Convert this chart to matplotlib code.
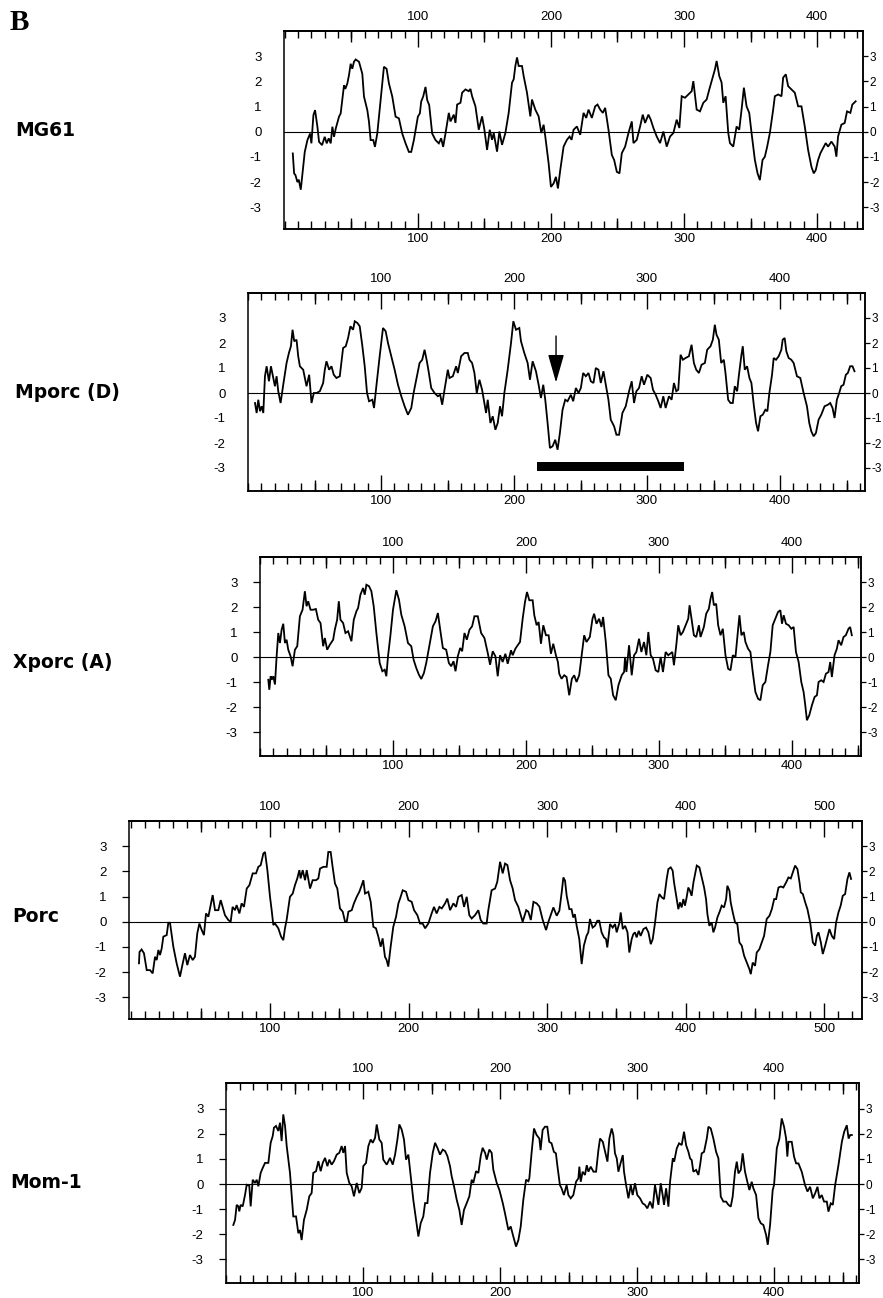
import matplotlib
matplotlib.use('Agg')
import matplotlib.pyplot as plt
from matplotlib.ticker import FixedLocator, MultipleLocator, NullFormatter, FixedFormatter

plt.rcParams['axes.unicode_minus'] = False
plt.rcParams['font.family'] = ['Liberation Sans', 'DejaVu Sans']

# ---------------- data (residue position, hydropathy value) ----------------
mg61 = [(6,-0.86),(7,-1.65),(8,-1.72),(9.5,-2.0),(10.5,-1.9),(12,-2.3),(13,-1.8),(15,-0.8),(17,-0.33),(19,-0.07),(20,-0.46),(21.5,0.66),(22.75,0.86),(24.5,0.2),(25.75,-0.4),(28,-0.53),(30,-0.2),(31.5,-0.46),(33,-0.26),(34.5,-0.46),(35.75,0.2),(37,-0.2),(38.3,0.13),(40.75,0.6),(42,0.73),(44.5,1.85),(45.5,1.7),(47,1.92),(48.25,2.25),(49.5,2.7),(50.7,2.5),(52,2.78),(53.25,2.87),(55.75,2.78),(58.25,2.3),(59.5,1.4),(62,0.86),(63.25,0.4),(64.5,-0.33),(66.5,-0.33),(67.75,-0.6),(69.5,-0.07),(72,1.26),(74.5,2.58),(76.5,2.5),(78.25,1.92),(80.75,1.4),(83.25,0.6),(85.75,0.53),(88.25,-0.07),(90.75,-0.46),(93.25,-0.8),(95,-0.8),(97,-0.33),(100,0.6),(101.5,0.73),(102.5,1.2),(104,1.4),(105.75,1.78),(107,1.26),(108.5,1.06),(110.75,-0.07),(113.25,-0.33),(115.75,-0.46),(117.5,-0.26),(119,-0.6),(120.75,-0.07),(123.25,0.75),(124.5,0.41),(127,0.68),(128.25,0.35),(129.5,1.08),(132,1.15),(133.25,1.55),(135.75,1.68),(138.25,1.61),(139.5,1.7),(140.75,1.41),(143.25,1.01),(145.75,0.08),(148.25,0.61),(150,0.08),(152,-0.72),(154,0.08),(155.75,-0.32),(157,-0.05),(159.5,-0.79),(161.25,0.01),(163.25,-0.52),(165.75,-0.05),(168.25,0.75),(170.75,1.95),(172,2.08),(173.25,2.61),(174.5,2.95),(175.75,2.61),(178.25,2.61),(179.5,2.21),(182,1.55),(184.5,0.61),(185.75,1.28),(188.25,0.88),(190.75,0.61),(192.75,-0.05),(194.5,0.28),(195.75,-0.19),(198.25,-1.25),(200,-2.19),(202,-2.05),(203.75,-1.79),(205.25,-2.25),(207,-1.52),(209.5,-0.59),(212,-0.32),(214,-0.19),(215.5,-0.32),(217,0.08),(219.5,0.21),(222,-0.12),(224.5,0.75),(226.5,0.55),(228.25,0.88),(230.75,0.55),(233.25,1.01),(235,1.08),(237,0.88),(239,0.75),(240.75,0.95),(243.25,0.08),(245.75,-0.92),(247.5,-1.12),(249.5,-1.59),(251.5,-1.65),(253.25,-0.85),(255.75,-0.59),(258.25,-0.05),(260.75,0.41),(262,-0.45),(264.5,-0.32),(267,0.21),(269,0.68),(270.75,0.35),(273.25,0.68),(275,0.48),(277,0.15),(279.5,-0.19),(282,-0.45),(284.5,0.01),(287,-0.59),(289.5,-0.19),(292,-0.05),(294.5,0.48),(296.5,0.15),(298.25,1.41),(300.75,1.35),(303.25,1.48),(305.75,1.61),(307,2.01),(309.5,0.88),(312,0.81),(314.5,1.15),(317,1.28),(319,1.68),(321.5,2.15),(323.25,2.48),(324.5,2.81),(326.5,2.21),(328.25,1.95),(329.5,1.15),(331.25,1.41),(333.25,-0.05),(334.5,-0.45),(337,-0.59),(339.5,0.21),(341.5,0.08),(343.25,0.88),(345,1.75),(347,1.01),(349,0.75),(350.75,-0.05),(353.25,-1.12),(355.25,-1.65),(357,-1.92),(359,-1.12),(360.75,-0.99),(362.5,-0.59),(364.5,-0.05),(367,0.88),(368.25,1.41),(370.75,1.48),(373.25,1.41),(374.5,2.15),(376.5,2.28),(378.25,1.81),(380.75,1.68),(383.25,1.55),(385.75,1.01),(388.25,1.01),(390.75,0.21),(393.25,-0.72),(395.75,-1.39),(397.5,-1.65),(399,-1.52),(400.75,-1.12),(402.5,-0.85),(404.5,-0.65),(406.5,-0.45),(408.25,-0.59),(410.75,-0.39),(413.25,-0.59),(414.5,-0.99),(415.75,-0.19),(418.25,0.28),(420.75,0.35),(422.5,0.81),(425,0.75),(426.5,1.08),(429,1.21)]

mporc = [(5.25,-0.4),(6.5,-0.8),(7.75,-0.27),(9,-0.73),(10.25,-0.53),(11.5,-0.8),(12.75,0.67),(14,1.07),(15.75,0.47),(17.25,1.07),(18.5,0.73),(20.25,0.27),(21.5,0.67),(22.75,0.07),(24.5,-0.4),(26.5,0.33),(29,1.2),(30.75,1.6),(32.25,1.87),(33.5,2.53),(34.75,2.07),(36.5,2.13),(37.75,1.47),(39,1.07),(41.5,0.93),(44,0.27),(46,0.73),(47.75,-0.4),(49.5,0),(51.5,0),(54,0.07),(56.5,0.4),(57.75,0.93),(59,1.27),(61,0.93),(62.75,1.07),(64.5,0.73),(66.5,0.6),(69,0.67),(71.5,1.8),(73.5,1.87),(75.25,2.2),(77,2.67),(79,2.53),(80.25,2.87),(82.25,2.8),(84,2.67),(86,1.87),(87.75,1.07),(89.5,0),(91,-0.33),(93.5,-0.27),(94.75,-0.6),(96.5,0.27),(99,1.47),(101.5,2.6),(103.5,2.47),(105.25,2.0),(107.75,1.47),(110.25,0.93),(112.75,0.33),(115.25,-0.13),(117.75,-0.53),(120.25,-0.87),(122.75,-0.6),(124.5,0),(126.5,0.53),(129,1.2),(131,1.33),(132.75,1.73),(134.5,1.27),(136,0.8),(137.75,0.2),(140.25,0),(142.75,-0.13),(144.5,-0.07),(146,-0.47),(147.75,0.13),(150.25,0.93),(151.5,0.6),(154,0.67),(156.5,1.07),(157.75,0.8),(160.25,1.47),(162.75,1.6),(165.25,1.6),(166.5,1.33),(168.5,1.2),(170.25,0.8),(172,0),(174,0.53),(176,0.13),(177.75,-0.4),(179,-0.8),(180.25,-0.27),(182.25,-1.2),(184,-0.93),(186,-1.47),(187.75,-1.2),(189.5,-0.53),(191,-0.93),(192.75,0),(195.25,0.93),(197.75,2.0),(199.5,2.87),(201.5,2.53),(204,2.6),(205.25,2.07),(207.75,1.6),(210.25,1.2),(212,0.53),(214,1.27),(216.5,0.87),(218.5,0.33),(220.25,-0.2),(222,0.33),(223.5,-0.27),(225.25,-1.2),(227,-2.2),(229,-2.13),(231,-1.87),(232.75,-2.27),(234.5,-1.6),(236.5,-0.67),(238.5,-0.27),(240.25,-0.33),(242.75,-0.07),(244.5,-0.33),(246.5,0.2),(248.5,0),(250.25,0.2),(252,0.8),(254,0.67),(256,0.8),(257.75,0.47),(259.75,0.4),(261.5,1.0),(263.5,0.93),(265.25,0.4),(267.25,0.87),(269,0.33),(271,-0.27),(272.75,-1.07),(275.25,-1.33),(277,-1.67),(279,-1.67),(281.5,-0.8),(284,-0.53),(286.5,0.07),(288.5,0.47),(290.25,-0.4),(292,0.07),(294,0.2),(296,0.67),(297.75,0.33),(300.25,0.73),(302.75,0.6),(304.5,0.13),(306.5,-0.07),(308.5,-0.33),(310.25,-0.6),(312.25,-0.13),(314,-0.6),(316.5,-0.13),(318.5,-0.27),(320.25,0.4),(322,0.07),(323.5,0.13),(325.25,1.53),(327,1.33),(329,1.4),(331.5,1.47),(333.5,1.93),(335.25,1.2),(337,0.93),(339,0.8),(341,1.13),(343.5,1.2),(345.25,1.73),(347.75,1.87),(349.5,2.13),(351,2.73),(352.25,2.33),(354,2.13),(355.75,1.2),(357.75,1.33),(359,0.8),(361,-0.27),(362.75,-0.4),(364.5,-0.4),(366,0.27),(367.75,0.07),(369,0.67),(371,1.53),(372,1.87),(373.5,0.93),(375.25,1.07),(377,0.6),(378.5,0.4),(380.25,-0.47),(382,-1.2),(383.5,-1.53),(385.25,-0.93),(387,-0.87),(389,-0.67),(390.5,-0.73),(392,0),(394,0.73),(395.25,1.4),(397,1.33),(399,1.47),(401,1.73),(402,2.13),(403.5,2.2),(404.75,1.67),(406.5,1.4),(408.5,1.33),(410.25,1.2),(412.75,0.67),(415.25,0.6),(417.75,0),(420.25,-0.53),(422,-1.2),(423.5,-1.53),(425.25,-1.73),(427,-1.6),(429,-1.07),(431,-0.87),(433.5,-0.53),(436,-0.47),(437.75,-0.4),(439.5,-0.6),(441,-1.0),(442.75,-0.27),(444.5,0),(446,0.27),(447.75,0.33),(449.5,0.73),(451,0.8),(452.75,1.07),(454.5,1.07),(456,0.87)]

xporc = [(6.25,-0.91),(7,-1.31),(8,-0.77),(9,-0.9),(10,-0.77),(11.25,-1.1),(12.5,0.03),(13.75,0.96),(15,0.56),(16.25,1.09),(17.5,1.33),(18.75,0.56),(20,0.69),(21.25,0.29),(23,0.03),(24.5,-0.37),(26.25,0.29),(28,0.43),(30,1.63),(32,1.89),(33.75,2.63),(35,2.03),(36.25,2.23),(38,1.89),(40,1.89),(42,1.92),(43.75,1.49),(45.5,1.36),(47.5,0.43),(48.75,0.76),(50.5,0.29),(52.5,0.49),(55,0.69),(56.25,1.09),(58,1.49),(59.25,2.23),(60.5,1.49),(62.5,1.36),(64.25,0.96),(66.25,1.03),(68.75,0.63),(70.5,1.49),(72.5,1.83),(73.75,1.96),(75.5,2.49),(77.5,2.76),(78.75,2.49),(80,2.89),(82,2.83),(83.75,2.63),(85.5,2.03),(87.5,0.96),(90,-0.24),(92,-0.57),(93.75,-0.51),(95,-0.77),(96.25,0.03),(98,0.83),(100,1.89),(102.5,2.67),(104.5,2.29),(106.25,1.69),(108.75,1.23),(111.25,0.56),(113.75,0.43),(115.5,-0.11),(117.5,-0.44),(119.5,-0.71),(121.25,-0.88),(123.25,-0.64),(125,-0.24),(127.5,0.49),(130,1.23),(132,1.43),(133.75,1.76),(135.5,1.09),(137.5,0.36),(140,0.29),(142,-0.24),(143.75,-0.37),(145.5,-0.17),(147,-0.57),(148.75,0.03),(150.5,0.36),(152,0.23),(153.75,0.96),(155.5,0.69),(157.5,1.09),(159.5,1.23),(161.25,1.63),(163.75,1.63),(166.25,0.96),(168.75,0.76),(171.25,0.16),(173,-0.31),(175,0.23),(177,0.03),(178.75,-0.77),(180.5,0.07),(182.5,-0.2),(184.5,0.13),(186.25,-0.27),(188.75,0.27),(190,0.07),(192,0.33),(193.75,0.47),(195.5,0.6),(197.5,1.53),(199.25,2.2),(200.75,2.6),(202.5,2.27),(205,2.27),(206.25,1.67),(208,1.27),(209.5,1.4),(211.25,0.53),(213,1.27),(215,0.87),(217,0.87),(218.75,0.13),(220.5,0.53),(222.5,0.07),(224,-0.2),(225,-0.67),(226.75,-0.87),(228.75,-0.73),(230.5,-0.8),(232.5,-1.53),(234.5,-0.87),(236.25,-0.73),(238,-1.0),(240,-0.73),(241.25,-0.2),(243.75,0.87),(245.5,0.6),(248,0.8),(250,1.53),(251.25,1.73),(253,1.33),(255,1.53),(256.75,1.2),(258,1.6),(260,0.6),(262,-0.73),(263.75,-0.87),(265.5,-1.53),(267.5,-1.73),(269.5,-1.13),(272,-0.73),(273.75,-0.6),(274.5,0),(275.5,-0.6),(277.5,0.47),(279.5,-0.73),(281.25,0.07),(283,0.2),(285,0.73),(286.75,0.2),(288.75,0.6),(290.5,0.07),(292,1.0),(293.75,0.07),(295.5,-0.07),(297.5,-0.53),(299.5,-0.6),(301.25,0),(303,-0.6),(305,0.2),(307,0.07),(310,0.2),(311.25,-0.33),(313,0.47),(314.5,1.27),(316.25,0.87),(318,1.0),(320,1.27),(322,1.53),(323,2.07),(324.5,1.53),(326.25,0.87),(328,0.8),(330,1.27),(331.25,0.8),(333.75,1.2),(335.5,1.73),(337.5,1.93),(338.75,2.33),(340,2.6),(341.25,2.07),(343,2.13),(344.5,1.27),(346.25,0.87),(348,1.13),(350,0.07),(352,-0.47),(353.75,-0.53),(355.5,0.07),(357.5,0),(359.5,1.13),(360.5,1.67),(362,0.87),(363.75,1.0),(365,0.6),(367,0.33),(368.75,0.2),(370.5,-0.6),(372.5,-1.4),(374.5,-1.67),(376.25,-1.73),(378,-1.13),(380,-1.0),(382,-0.33),(383.75,0.2),(385.5,1.27),(387.5,1.53),(389.5,1.8),(391.25,1.87),(392.5,1.33),(393.75,1.67),(395.5,1.33),(397.5,1.27),(399.5,1.13),(401.25,1.2),(403,0.2),(405,-0.2),(407,-1.0),(408.75,-1.4),(410,-1.93),(411.25,-2.53),(413,-2.33),(415,-1.93),(417,-1.6),(418.75,-1.53),(420,-1.0),(422,-0.93),(423.75,-1.0),(425.5,-0.67),(427.5,-0.6),(428.75,-0.2),(430,-0.8),(432,0.07),(433.75,0.33),(435,0.67),(437,0.47),(438.75,0.8),(440.5,0.87),(442.5,1.13),(443.75,1.2),(445,0.87)]

porc = [(5.4,-1.65),(5.8,-1.2),(7.3,-1.1),(9,-1.25),(11,-1.92),(13.4,-1.92),(15.3,-2.05),(17,-1.39),(18.2,-1.52),(19.4,-1.12),(20.6,-1.32),(21.8,-1.06),(23,-0.59),(25.4,-0.53),(26.6,-0.04),(27.8,-0.04),(30.2,-0.99),(32.6,-1.65),(35,-2.18),(37,-1.65),(38.6,-1.25),(40.3,-1.72),(42.2,-1.32),(44.2,-1.52),(45.8,-1.39),(47.5,-0.46),(49,-0.07),(50.7,-0.33),(52.3,-0.53),(53.8,0.33),(55.5,0.2),(56.7,0.53),(58.6,1.06),(60.3,0.46),(62.7,0.46),(64.4,0.86),(65.8,0.59),(67.5,0.26),(69.9,0.07),(71.6,0),(73,0.59),(74.7,0.46),(75.9,0.66),(77.9,0.33),(79.5,0.73),(81.2,0.59),(83.2,1.32),(85.1,1.45),(87.5,1.92),(89.9,1.92),(91.6,2.18),(93.3,2.25),(95.2,2.71),(96.4,2.77),(98.1,2.05),(100,0.99),(101.2,0.46),(102.4,-0.13),(103.6,-0.07),(106,-0.26),(108,-0.59),(109.6,-0.73),(110.8,-0.26),(112,0.07),(114.4,0.99),(116.4,1.12),(118,1.45),(119.7,1.72),(121.2,2.05),(122.1,1.72),(123.6,2.05),(125.3,1.65),(126.5,2.05),(128.9,1.32),(130.8,1.65),(133.2,1.65),(134.9,1.72),(136.1,2.11),(138.5,2.18),(140.9,2.18),(142.1,2.77),(143.8,2.77),(145.2,2.18),(146.9,1.52),(148.6,1.32),(150.5,0.53),(152.5,0.4),(154.2,0),(155.4,0),(156.6,0.4),(159,0.46),(160.6,0.73),(162.6,0.99),(164.5,1.19),(166.2,1.45),(167.4,1.65),(168.6,1.12),(171,1.19),(172.7,0.79),(174.6,-0.2),(176.5,-0.26),(178.2,-0.59),(179.9,-0.99),(181.3,-0.66),(183,-1.39),(184.2,-1.52),(185.4,-1.78),(187.1,-0.99),(189,-0.2),(191,0.2),(192.7,0.73),(193.9,0.92),(195.8,1.25),(198.2,1.19),(199.9,0.86),(202.3,0.79),(204,0.46),(206.4,0.26),(208.3,-0.07),(210.2,-0.07),(212,-0.26),(214.3,-0.07),(216.7,0.33),(218.4,0.59),(220.3,0.33),(222.3,0.59),(224,0.53),(226.4,0.73),(228,0.92),(230,0.46),(232.4,0.73),(234.3,0.59),(236,0.99),(238.4,1.06),(240.1,0.59),(242,0.99),(243.9,0.26),(245.6,0.13),(248,0.26),(250.4,0.46),(252.1,0.07),(254,-0.07),(256.4,-0.07),(257.6,0.46),(260,1.25),(262.5,1.32),(264.1,1.59),(266.1,2.38),(268,1.92),(269.7,2.31),(271.4,2.25),(273.3,1.65),(275.2,1.32),(276.9,0.86),(279.3,0.59),(281,0.26),(282.4,0),(285,0.46),(286.5,0.4),(288.3,0.07),(290.2,0.79),(292.5,0.73),(294.5,0.6),(296.9,0.07),(299.3,-0.33),(301,0),(304.6,0.57),(307,0.24),(308.9,0.44),(310.6,1.17),(311.8,1.76),(313,1.63),(314.2,1.03),(316.1,0.5),(317.7,0.5),(318.9,0.17),(320.1,0.3),(321.4,-0.16),(323.3,-0.69),(325,-1.68),(326.6,-0.95),(328.5,-0.56),(329.8,-0.42),(331,0.11),(332.9,-0.23),(334.6,-0.16),(336.3,0.04),(337.7,0.04),(339.4,-0.42),(341.1,-0.62),(342.6,-0.69),(343.5,-1.02),(345.5,-0.09),(347.4,-0.23),(349.1,-0.09),(350.3,-0.42),(352.3,-0.03),(353.2,0.37),(354.7,-0.29),(356.4,-0.16),(358.1,-0.42),(359.4,-1.22),(361.1,-0.69),(362.3,-0.49),(363.5,-0.42),(364.7,-0.62),(366.2,-0.36),(367.6,-0.56),(369.6,-0.29),(371.5,-0.23),(373.2,-0.42),(374.9,-0.89),(376.3,-0.69),(378,-0.03),(379.7,0.77),(381.1,1.1),(382.8,0.97),(384.5,0.9),(386.4,1.7),(387.6,2.09),(389.3,2.16),(390.7,2.03),(391.7,1.56),(393.6,0.9),(394.8,0.5),(396,0.77),(397.2,0.57),(398.4,0.9),(399.6,0.64),(400.8,0.97),(402,1.36),(403.2,1.23),(404.4,1.03),(405.7,1.56),(406.9,1.89),(408.1,2.23),(410,2.16),(411.7,1.76),(413.4,1.36),(414.8,0.9),(415.8,0.3),(417.2,-0.16),(418.9,-0.03),(420.1,-0.42),(421.3,-0.23),(423,0.17),(424.9,0.44),(426.1,0.64),(427.8,0.57),(429.3,0.9),(430.2,1.43),(431.7,1.23),(432.6,0.77),(434.1,0.37),(435.8,-0.03),(437.4,-0.09),(438.9,-0.82),(440.6,-0.95),(442.3,-1.35),(444.2,-1.62),(446.1,-1.88),(447.1,-2.08),(448.5,-1.62),(450.2,-1.75),(451.4,-1.22),(453.3,-1.09),(455,-0.82),(456.7,-0.56),(458.6,0.11),(460.6,0.24),(462.3,0.5),(464,0.9),(465.4,0.9),(467.1,1.36),(468.8,1.4),(470.6,1.36),(472.6,1.56),(474.3,1.76),(476,1.72),(477.9,2.03),(479.1,2.23),(480.8,2.09),(482.3,1.56),(483.2,1.17),(484.7,1.1),(486.4,0.77),(488,0.5),(490,-0.03),(491.9,-0.82),(493.6,-0.95),(494.8,-0.56),(496,-0.42),(497.7,-0.82),(499.1,-1.28),(500.8,-0.95),(502,-0.69),(503.9,-0.29),(505.6,-0.56),(507.3,-0.69),(508.7,-0.03),(510.4,0.37),(512,0.64),(513.5,1.03),(515.2,1.1),(516.9,1.7),(518.3,1.96),(519.5,1.7)]

mom1 = [(5.35,-1.63),(6.6,-1.43),(7.8,-0.83),(9,-0.89),(9.7,-1.09),(10.7,-0.83),(12.2,-0.89),(13.9,-0.43),(15.1,-0.03),(17,-0.07),(18,-0.89),(19.5,0.17),(21.2,0.04),(22.4,0.17),(23.6,-0.09),(25.3,0.44),(26.8,0.64),(28.5,0.84),(30.9,0.84),(32.6,1.64),(34.1,1.91),(35,2.24),(36.5,2.31),(38.2,2.11),(39.4,2.44),(40.6,1.71),(41.8,2.77),(43.1,2.31),(44.3,1.51),(46.7,0.44),(49.1,-1.29),(51.1,-1.29),(52.8,-1.96),(54,-1.83),(55.2,-2.23),(56.9,-1.43),(58.9,-1.03),(60.8,-0.49),(62.5,-0.36),(63.7,0.44),(65.7,0.51),(67.4,0.91),(69.1,0.51),(70.6,0.84),(72.3,1.04),(74,0.71),(75.4,0.97),(77.1,0.77),(78.8,0.91),(80.8,1.17),(82.7,1.24),(84.4,1.51),(85.6,1.24),(86.9,1.51),(88.1,0.44),(90,0.04),(91.7,-0.09),(93.4,-0.49),(95.4,0.04),(97.3,-0.36),(99,-0.16),(100.2,0.71),(102.2,0.84),(103.9,1.51),(105.6,1.77),(107.1,1.64),(108.8,1.84),(110,2.37),(111.9,1.77),(113.6,1.64),(114.8,0.97),(117.3,0.77),(119.7,1.04),(121.7,0.77),(123.4,1.17),(125.1,1.77),(126.5,2.37),(128.2,2.17),(129.9,1.77),(131.4,0.97),(133.1,1.17),(134.3,0.57),(136.7,-0.63),(138.7,-1.43),(140.4,-2.09),(142.1,-1.56),(144,-1.29),(145.3,-0.76),(147,-0.76),(148.9,0.44),(150.9,1.24),(152.6,1.64),(154.3,1.44),(156.2,1.17),(158.2,1.37),(159.9,1.31),(161.6,1.11),(163.5,0.71),(164.7,0.31),(166.4,-0.09),(168.4,-0.63),(170.3,-1.03),(172,-1.63),(173.7,-1.03),(175.7,-0.76),(177.6,-0.49),(179.3,0.17),(180.5,0.04),(182.5,0.51),(184.2,0.44),(185.9,1.11),(187.3,1.44),(189.1,1.24),(190.3,0.97),(192.2,1.37),(193.9,1.24),(195.1,0.57),(197.6,0.04),(199.5,-0.23),(202,-0.76),(203.6,-1.16),(206.1,-1.83),(207.8,-1.69),(209.7,-2.09),(211.7,-2.49),(213.4,-2.23),(215.1,-1.69),(217,-0.63),(219,0.17),(220.7,0.11),(221.4,0.23),(223.1,1.28),(224.8,2.21),(226.7,1.95),(228.7,1.81),(229.6,1.35),(231.1,2.15),(232.8,2.28),(234.5,2.28),(235.9,1.68),(237.6,1.62),(239.3,1.28),(240.8,1.22),(241.8,0.75),(243.7,-0.04),(244.9,-0.17),(246.6,-0.44),(248.6,-0.04),(249.9,-0.44),(251.6,-0.57),(253.5,-0.44),(255.5,0.09),(257.2,0.23),(257.9,0.69),(258.9,0.09),(260.3,0.49),(262,0.36),(263.3,0.75),(264.5,0.49),(266.2,0.69),(268.2,0.49),(270.1,0.49),(271.8,1.35),(273,1.81),(275,1.68),(276.7,1.28),(278.4,0.89),(279.8,1.81),(281.5,2.21),(282.7,1.95),(283.9,1.22),(285.2,1.02),(286.4,0.49),(287.6,0.75),(289.6,1.15),(290.5,0.49),(292,-0.04),(293.7,-0.57),(295.4,-0.04),(296.8,-0.44),(298.5,0.03),(300.2,-0.44),(302.2,-0.57),(304.1,-0.77),(305.8,-0.83),(307.5,-0.97),(309.5,-0.7),(311.4,-0.97),(313.1,-0.04),(314.4,-0.44),(315.6,-0.83),(317.3,0.03),(318.7,-0.44),(319.7,-0.83),(321.2,-0.17),(322.9,-0.9),(324.1,0.09),(326.1,1.02),(327.1,0.89),(329,1.42),(330.7,1.62),(332.6,1.55),(334.3,2.08),(335.8,1.55),(337.5,1.28),(338.7,1.02),(339.9,0.95),(341.1,0.49),(343.1,0.56),(344.8,0.36),(346,0.75),(347.2,1.22),(348.9,1.28),(350.9,1.81),(352.1,2.28),(353.8,2.21),(355.7,1.81),(357.7,1.28),(359.4,1.02),(361.1,-0.5),(363,-0.7),(365,-0.7),(366.7,-0.83),(368.4,-0.9),(369.8,-0.5),(371.5,0.49),(372.8,0.89),(374,0.42),(375.7,0.56),(377.1,1.22),(378.8,0.49),(380.5,0.09),(382,-0.24),(383.7,0.09),(384.9,-0.17),(386.9,-0.44),(388.6,-1.36),(390.3,-1.56),(392.2,-1.63),(394.2,-2.03),(395.4,-2.42),(397.1,-1.63),(399,-0.24),(400,-0.04),(402,1.42),(403.9,1.81),(405.6,2.61),(407.3,2.28),(408.8,1.81),(409.7,1.09),(410.5,1.68),(412.9,1.68),(414.6,1.09),(416.1,0.82),(417.8,0.82),(420.2,0.49),(422.6,-0.04),(424.4,-0.3),(426.3,-0.11),(428.3,-0.57),(430,-0.37),(431.7,-0.11),(433.1,-0.57),(434.8,-0.44),(436.5,-0.7),(438.5,-0.7),(439.7,-1.1),(441.4,-0.77),(442.9,-0.83),(444.6,-0.04),(447,0.75),(449.5,1.68),(451.2,2.08),(453.1,2.34),(454.4,1.81),(455.6,1.95),(456.8,1.95)]

panel_names = ['MG61', 'Mporc (D)', 'Xporc (A)', 'Porc', 'Mom-1']
panel_series = [mg61, mporc, xporc, porc, mom1]
x_major_ticks = [[100, 200, 300, 400], [100, 200, 300, 400], [100, 200, 300, 400],
                 [100, 200, 300, 400, 500], [100, 200, 300, 400]]
y_ticks = [-3, -2, -1, 0, 1, 2, 3]
y_tick_labels = ['-3', '-2', '-1', '0', '1', '2', '3']

# annotations on the Mporc (D) panel
arrow_pos, arrow_from, arrow_to = 231.6, 2.28, 0.42
bar_start, bar_end, bar_center, bar_height = 217, 328, -2.94, 0.36

# ---------------- layout (pixels) ----------------
W, H = 883, 1298
PT = 72.0 / 100.0  # points per pixel
layout = [
    dict(box=(284, 863, 31, 229), xlim=(-0.6, 434.5), ylim=(-3.86, 4.0), left_ticks=False, label_xy=(15, 131)),
    dict(box=(248, 865, 293, 491), xlim=(0, 463.9), ylim=(-3.92, 4.0), left_ticks=False, label_xy=(15, 393)),
    dict(box=(260, 861, 557, 756), xlim=(0, 451.9), ylim=(-3.96, 4.0), left_ticks=True, label_xy=(13, 662)),
    dict(box=(129, 862, 821, 1019), xlim=(-1.8, 527.4), ylim=(-3.86, 4.0), left_ticks=True, label_xy=(12, 917)),
    dict(box=(226, 859, 1083, 1283), xlim=(0, 462.0), ylim=(-3.94, 4.02), left_ticks=True, label_xy=(10, 1183)),
]

fig = plt.figure(figsize=(W / 100, H / 100), dpi=100)
fig.text(10 / W, 1 - 22 / H, 'B', family='Liberation Serif', fontweight='bold',
         fontsize=21, va='center', ha='left')

LW_SPINE = 1.1
for i, (name, data, majors, lay) in enumerate(zip(panel_names, panel_series, x_major_ticks, layout)):
    l, r, t, b = lay['box']
    ax = fig.add_axes([l / W, 1 - b / H, (r - l) / W, (b - t) / H])
    xs = [p[0] for p in data]
    ys = [p[1] for p in data]
    ax.plot(xs, ys, color='black', lw=1.3, solid_joinstyle='miter')
    ax.axhline(0, color='black', lw=0.8)
    ax.set_xlim(*lay['xlim'])
    ax.set_ylim(*lay['ylim'])
    for s in ax.spines.values():
        s.set_linewidth(LW_SPINE)

    # x axis: bottom ticks & labels on main axis
    ax.xaxis.set_major_locator(FixedLocator(majors))
    ax.xaxis.set_minor_locator(MultipleLocator(10))
    ax.xaxis.set_major_formatter(FixedFormatter([str(v) for v in majors]))
    ax.tick_params(axis='x', which='major', direction='in', bottom=True, top=False,
                   labelbottom=True, labeltop=False, length=16 * PT, width=1.0,
                   labelsize=9.5, pad=3)
    ax.tick_params(axis='x', which='minor', direction='in', bottom=True, top=False,
                   length=8 * PT, width=1.0)

    # top ticks & labels
    top = ax.secondary_xaxis('top')
    top.xaxis.set_major_locator(FixedLocator(majors))
    top.xaxis.set_minor_locator(MultipleLocator(10))
    top.xaxis.set_major_formatter(FixedFormatter([str(v) for v in majors]))
    top.tick_params(axis='x', which='major', direction='in', length=16 * PT, width=1.0,
                    labelsize=9.5, pad=6)
    top.tick_params(axis='x', which='minor', direction='in', length=7 * PT, width=1.0)
    top.spines['top'].set_linewidth(LW_SPINE)

    # mid (50s) ticks top and bottom
    mids = [m - 50 for m in majors] + [majors[-1] + 50]
    for loc in ('top', 'bottom'):
        sec = ax.secondary_xaxis(loc)
        sec.xaxis.set_major_locator(FixedLocator(mids))
        sec.xaxis.set_major_formatter(NullFormatter())
        sec.tick_params(axis='x', which='major', direction='in', length=11 * PT, width=1.0)
        sec.spines[loc].set_linewidth(LW_SPINE)

    # y axis: left labels
    ax.set_yticks(y_ticks)
    ax.set_yticklabels(y_tick_labels)
    ax.tick_params(axis='y', which='major', direction='out', left=True, right=False,
                   labelleft=True, labelright=False, length=7 * PT, width=0.9,
                   labelsize=9.5, pad=11)
    if not lay['left_ticks']:
        for tk in ax.yaxis.get_major_ticks():
            tk.tick1line.set_visible(False)

    # y axis: right ticks & labels (kept inside the figure edge)
    rax = ax.secondary_yaxis('right')
    rax.set_yticks(y_ticks)
    rax.set_yticklabels(y_tick_labels)
    rax.tick_params(axis='y', which='major', direction='out', length=5 * PT, width=0.9,
                    labelsize=8.5, pad=1)
    rax.spines['right'].set_linewidth(LW_SPINE)

    fig.text(lay['label_xy'][0] / W, 1 - lay['label_xy'][1] / H, name,
             family='DejaVu Sans', fontweight='bold', fontsize=13.5, va='center', ha='left')

    if i == 1:
        ax.annotate('', xy=(arrow_pos, arrow_to), xytext=(arrow_pos, arrow_from),
                    arrowprops=dict(arrowstyle='-|>,head_length=1.75,head_width=0.5',
                                    mutation_scale=10, lw=1.0, color='black',
                                    shrinkA=0, shrinkB=0))
        ax.fill_between([bar_start, bar_end], bar_center - bar_height / 2,
                        bar_center + bar_height / 2, color='black', lw=0)

fig.savefig('out.png', dpi=100)
